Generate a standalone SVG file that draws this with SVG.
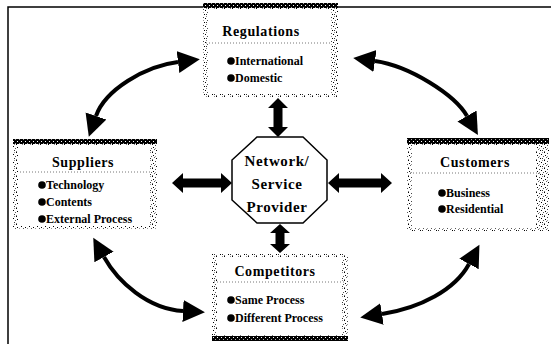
<svg xmlns="http://www.w3.org/2000/svg" width="551" height="344" viewBox="0 0 551 344">
<defs>
<pattern id="stip" width="8" height="8" patternUnits="userSpaceOnUse">
<rect width="8" height="8" fill="#fff"/>
<rect x="0" y="0" width="1" height="1" fill="#000"/>
<rect x="3" y="1" width="1" height="1" fill="#444"/>
<rect x="6" y="0" width="1" height="1" fill="#888"/>
<rect x="1" y="3" width="1" height="1" fill="#000"/>
<rect x="5" y="2" width="1" height="1" fill="#000"/>
<rect x="7" y="4" width="1" height="1" fill="#555"/>
<rect x="2" y="5" width="1" height="1" fill="#666"/>
<rect x="4" y="6" width="1" height="1" fill="#000"/>
<rect x="0" y="7" width="1" height="1" fill="#777"/>
<rect x="6" y="6" width="1" height="1" fill="#333"/>
<rect x="3" y="4" width="1" height="1" fill="#999"/>
</pattern>
<pattern id="dark" width="4" height="4" patternUnits="userSpaceOnUse">
<rect width="4" height="4" fill="#000"/>
<rect x="1" y="1" width="1" height="1" fill="#fff"/>
<rect x="3" y="3" width="1" height="1" fill="#aaa"/>
</pattern>
<marker id="ah" markerUnits="userSpaceOnUse" markerWidth="24" markerHeight="24" viewBox="0 -12 24 24" refX="0" refY="0" orient="auto-start-reverse">
<path d="M0,-11 L22,0 L0,11 z" fill="#000"/>
</marker>
<style>
.t{font-family:"Liberation Serif","Times New Roman",serif;font-weight:bold;fill:#000}
.ti{font-size:14px;letter-spacing:0.6px;text-anchor:middle}
.it{font-size:12px}
.oc{font-size:15px;letter-spacing:0.6px;text-anchor:middle}
.sep{stroke:#777;stroke-width:1;stroke-dasharray:1 2}
.cur{fill:none;stroke:#000;stroke-width:4;marker-start:url(#ah);marker-end:url(#ah)}
</style>
</defs>
<rect width="551" height="344" fill="#fff"/>
<g id="frame" stroke="#000" stroke-width="1.5" fill="none">
<path d="M8,344 V7 H551"/>
</g>

<g id="connectors" fill="#000">
<path class="cur" d="M178,62 C145,66 105,90 96,116"/>
<path class="cur" d="M375,61 C410,66 455,95 467,116"/>
<path class="cur" d="M104,257 C118,282 148,309 183,311"/>
<path class="cur" d="M382,314 C420,308 455,290 469,264"/>
<polygon points="278,98 288,108 282.5,108 282.5,127 288,127 278,137 268,127 273.5,127 273.5,108 268,108"/>
<polygon points="280,224 290,233 284.5,233 284.5,244 290,244 280,253 270,244 275.5,244 275.5,233 270,233"/>
<polygon points="172,183 183,173 183,178.5 221,178.5 221,173 232,183 221,193 221,187.5 183,187.5 183,193"/>
<polygon points="328,183 339,173 339,178.5 381,178.5 381,173 392,183 381,193 381,187.5 339,187.5 339,193"/>
</g>

<g id="provider">
<polygon points="257,137 303,137 327,160 327,200 303,223 257,223 232,200 232,160" fill="#fff" stroke="#000" stroke-width="1.5"/>
<text class="t oc" x="277" y="166">Network/</text>
<text class="t oc" x="277" y="189">Service</text>
<text class="t oc" x="277" y="212">Provider</text>
</g>

<g id="regulations">
<rect x="203" y="3" width="135" height="94" fill="url(#stip)"/>
<rect x="208" y="9" width="123" height="85" fill="#fff"/>
<rect x="203" y="3" width="135" height="5" fill="url(#dark)"/>
<text class="t ti" x="261" y="36">Regulations</text>
<line class="sep" x1="206" y1="43" x2="332" y2="43"/>
<circle cx="231" cy="61" r="3.8"/>
<text class="t it" x="235" y="65">International</text>
<circle cx="231" cy="78" r="3.8"/>
<text class="t it" x="235" y="82">Domestic</text>
</g>

<g id="suppliers">
<rect x="13" y="139" width="144" height="90" fill="url(#stip)"/>
<rect x="18" y="145" width="132" height="81" fill="#fff"/>
<rect x="13" y="139" width="144" height="5" fill="url(#dark)"/>
<text class="t ti" x="83" y="167">Suppliers</text>
<line class="sep" x1="20" y1="172" x2="152" y2="172"/>
<circle cx="42" cy="185" r="3.8"/>
<text class="t it" x="46" y="189">Technology</text>
<circle cx="42" cy="202" r="3.8"/>
<text class="t it" x="46" y="206">Contents</text>
<circle cx="42" cy="219" r="3.8"/>
<text class="t it" x="46" y="223">External Process</text>
</g>

<g id="customers">
<rect x="407" y="138" width="142" height="93" fill="url(#stip)"/>
<rect x="412" y="145" width="124" height="83" fill="#fff"/>
<rect x="407" y="138" width="142" height="6" fill="url(#dark)"/>
<text class="t ti" x="475" y="167">Customers</text>
<line class="sep" x1="410" y1="173" x2="540" y2="173"/>
<circle cx="442" cy="193" r="3.8"/>
<text class="t it" x="446" y="197">Business</text>
<circle cx="442" cy="209" r="3.8"/>
<text class="t it" x="446" y="213">Residential</text>
</g>

<g id="competitors">
<rect x="212" y="254" width="136" height="87" fill="url(#stip)"/>
<rect x="217" y="257" width="125" height="78" fill="#fff"/>
<rect x="212" y="336" width="136" height="5" fill="url(#dark)"/>
<text class="t ti" x="275" y="276">Competitors</text>
<line class="sep" x1="214" y1="282" x2="345" y2="282"/>
<circle cx="231" cy="300" r="3.8"/>
<text class="t it" x="235" y="304">Same Process</text>
<circle cx="231" cy="318" r="3.8"/>
<text class="t it" x="235" y="322">Different Process</text>
</g>
</svg>
